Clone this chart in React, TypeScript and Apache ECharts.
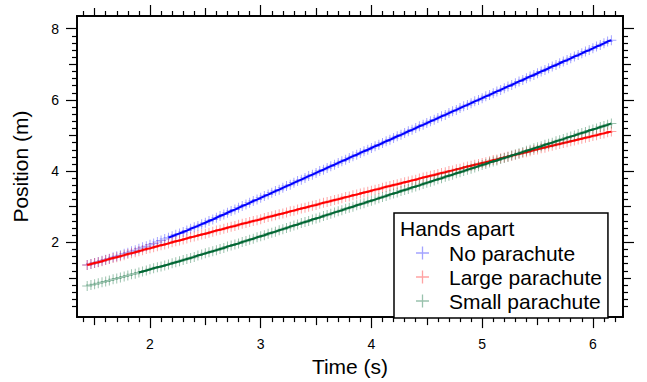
import React, { useEffect, useRef } from "react";
import * as echarts from "echarts";

// ---- data ----
const timeS = [
  1.433, 1.467, 1.5, 1.533, 1.567, 1.6, 1.633, 1.667, 1.7, 1.733, 1.767, 1.8, 1.833, 1.867, 1.9, 1.933, 1.967, 2,
  2.033, 2.067, 2.1, 2.133, 2.167, 2.2, 2.233, 2.267, 2.3, 2.333, 2.367, 2.4, 2.433, 2.467, 2.5, 2.533, 2.567, 2.6, 2.633, 2.667, 2.7, 2.733, 2.767, 2.8, 2.833, 2.867, 2.9, 2.933, 2.967, 3,
  3.033, 3.067, 3.1, 3.133, 3.167, 3.2, 3.233, 3.267, 3.3, 3.333, 3.367, 3.4, 3.433, 3.467, 3.5, 3.533, 3.567, 3.6, 3.633, 3.667, 3.7, 3.733, 3.767, 3.8, 3.833, 3.867, 3.9, 3.933, 3.967, 4,
  4.033, 4.067, 4.1, 4.133, 4.167, 4.2, 4.233, 4.267, 4.3, 4.333, 4.367, 4.4, 4.433, 4.467, 4.5, 4.533, 4.567, 4.6, 4.633, 4.667, 4.7, 4.733, 4.767, 4.8, 4.833, 4.867, 4.9, 4.933, 4.967, 5,
  5.033, 5.067, 5.1, 5.133, 5.167, 5.2, 5.233, 5.267, 5.3, 5.333, 5.367, 5.4, 5.433, 5.467, 5.5, 5.533, 5.567, 5.6, 5.633, 5.667, 5.7, 5.733, 5.767, 5.8, 5.833, 5.867, 5.9, 5.933, 5.967, 6,
  6.033, 6.067, 6.1, 6.133, 6.167,
];

const noParachute = [
  1.36, 1.39, 1.42, 1.45, 1.48, 1.51, 1.54, 1.58, 1.61, 1.64, 1.68, 1.71, 1.75, 1.78, 1.82, 1.86, 1.89, 1.93, 1.97, 2.01,
  2.05, 2.09, 2.13, 2.17, 2.21, 2.25, 2.29, 2.33, 2.38, 2.42, 2.46, 2.51, 2.55, 2.6, 2.64, 2.69,
  2.74, 2.78, 2.83, 2.88, 2.92, 2.97, 3.02, 3.06, 3.11, 3.16, 3.2, 3.25, 3.3, 3.34, 3.39, 3.44, 3.48, 3.53, 3.58, 3.62,
  3.67, 3.72, 3.76, 3.81, 3.86, 3.9, 3.95, 4.0, 4.04, 4.09, 4.14, 4.18, 4.23, 4.28, 4.32, 4.37, 4.42, 4.46, 4.51, 4.56,
  4.6, 4.65, 4.7, 4.74, 4.79, 4.84, 4.88, 4.93, 4.98, 5.02, 5.07, 5.12, 5.16, 5.21, 5.26, 5.3, 5.35, 5.4, 5.44, 5.49,
  5.54, 5.58, 5.63, 5.68, 5.72, 5.77, 5.82, 5.86, 5.91, 5.96, 6.0, 6.05, 6.1, 6.14, 6.19, 6.24, 6.28, 6.33, 6.38, 6.42,
  6.47, 6.52, 6.56, 6.61, 6.66, 6.7, 6.75, 6.8, 6.84, 6.89, 6.94, 6.98, 7.03, 7.08, 7.12, 7.17, 7.22, 7.26, 7.31, 7.36,
  7.4, 7.45, 7.5, 7.54, 7.59, 7.64, 7.68,
];

const largeParachute = [
  1.36, 1.39, 1.42, 1.44, 1.47, 1.5, 1.53, 1.56, 1.58, 1.61,
  1.64, 1.67, 1.69, 1.72, 1.75, 1.78, 1.81, 1.83, 1.86, 1.89,
  1.92, 1.94, 1.97, 2.0, 2.03, 2.05, 2.08, 2.11, 2.14, 2.16,
  2.19, 2.22, 2.24, 2.27, 2.3, 2.33, 2.35, 2.38, 2.41, 2.44,
  2.46, 2.49, 2.52, 2.54, 2.57, 2.6, 2.62, 2.65, 2.68, 2.71,
  2.73, 2.76, 2.79, 2.81, 2.84, 2.87, 2.89, 2.92, 2.95, 2.97,
  3.0, 3.03, 3.05, 3.08, 3.11, 3.13, 3.16, 3.19, 3.21, 3.24,
  3.27, 3.29, 3.32, 3.34, 3.37, 3.4, 3.42, 3.45, 3.48, 3.5,
  3.53, 3.56, 3.58, 3.61, 3.63, 3.66, 3.69, 3.71, 3.74, 3.76,
  3.79, 3.82, 3.84, 3.87, 3.89, 3.92, 3.95, 3.97, 4.0, 4.02,
  4.05, 4.07, 4.1, 4.13, 4.15, 4.18, 4.2, 4.23, 4.25, 4.28,
  4.31, 4.33, 4.36, 4.38, 4.41, 4.43, 4.46, 4.48, 4.51, 4.53,
  4.56, 4.59, 4.61, 4.64, 4.66, 4.69, 4.71, 4.74, 4.76, 4.79,
  4.81, 4.84, 4.86, 4.89, 4.91, 4.94, 4.96, 4.99, 5.01, 5.04,
  5.06, 5.09, 5.11,
];

const smallParachute = [
  0.77, 0.8, 0.82, 0.85, 0.88, 0.9, 0.93, 0.96, 0.98, 1.01,
  1.04, 1.07, 1.1, 1.12, 1.15, 1.18, 1.21, 1.24, 1.27, 1.3,
  1.32, 1.35, 1.38, 1.41, 1.44, 1.47, 1.5, 1.53, 1.56, 1.59,
  1.63, 1.66, 1.69, 1.72, 1.75, 1.78, 1.81, 1.84, 1.88, 1.91,
  1.94, 1.97, 2.01, 2.04, 2.07, 2.1, 2.14, 2.17,
  2.2, 2.24, 2.27, 2.3, 2.34, 2.37, 2.4, 2.44, 2.47, 2.5, 2.54, 2.57,
  2.6, 2.64, 2.67, 2.7, 2.74, 2.77, 2.8, 2.84, 2.87, 2.9,
  2.94, 2.97, 3.0, 3.04, 3.07, 3.1, 3.14, 3.17, 3.2, 3.24,
  3.27, 3.3, 3.34, 3.37, 3.4, 3.44, 3.47, 3.5, 3.54, 3.57,
  3.6, 3.64, 3.67, 3.7, 3.74, 3.77, 3.8, 3.84, 3.87, 3.9,
  3.94, 3.97, 4.0, 4.04, 4.07, 4.1, 4.14, 4.17, 4.2, 4.24,
  4.27, 4.3, 4.34, 4.37, 4.4, 4.44, 4.47, 4.5, 4.54, 4.57,
  4.6, 4.64, 4.67, 4.7, 4.74, 4.77, 4.8, 4.84, 4.87, 4.9,
  4.94, 4.97, 5.0, 5.04, 5.07, 5.1, 5.14, 5.17, 5.2, 5.24,
  5.27, 5.3, 5.34,
];

// start times of the fitted (solid) lines
const fitStart = { none: 2.15, large: 1.43, small: 1.9 };

const seriesNames = ["No parachute", "Large parachute", "Small parachute"];
const legendTitle = "Hands apart";
const xTitle = "Time (s)";
const yTitle = "Position (m)";

const xMajorTicks = [2, 3, 4, 5, 6];
const xMidTicks = [1.5, 2.5, 3.5, 4.5, 5.5];
const yMajorTicks = [2, 4, 6, 8];
const yMidTicks = [1, 3, 5, 7];

// ---- layout / style ----
const FONT = 'Arial, "Liberation Sans", sans-serif';
const X_MIN = 1.341;
const X_MAX = 6.272;
const Y_MIN = -0.101;
const Y_MAX = 8.358;
const PLUS = "path://M4.5,0h1v10h-1z M0,4.5h10v1h-10z";

const xMinorTicks: number[] = [];
for (let i = 14; i <= 62; i++) if (i % 5 !== 0) xMinorTicks.push(i / 10);
const yMinorTicks: number[] = [];
for (let i = 1; i <= 40; i++) if (i % 5 !== 0) yMinorTicks.push(i / 5);

const axisLineStyle = { color: "#000", width: 1.5 };
const tickLineStyle = { color: "#000", width: 1.2 };

function pairs(ys: number[]) {
  const n = Math.min(timeS.length, ys.length);
  const out: number[][] = [];
  for (let i = 0; i < n; i++) out.push([timeS[i], ys[i]]);
  return out;
}

function mkX(position: string, ticks: number[], len: number, labels: boolean, name?: string) {
  return {
    type: "value",
    position,
    min: X_MIN,
    max: X_MAX,
    name: name || "",
    nameLocation: "middle",
    nameGap: 26,
    nameTextStyle: { fontSize: 21, color: "#000", fontFamily: FONT },
    axisLine: { show: true, onZero: false, lineStyle: axisLineStyle },
    axisTick: { show: true, inside: false, length: len, customValues: ticks, lineStyle: tickLineStyle },
    axisLabel: labels
      ? { show: true, customValues: ticks, fontSize: 14, color: "#000", margin: 20, fontFamily: FONT }
      : { show: false },
    splitLine: { show: false },
  };
}

function mkY(position: string, ticks: number[], len: number, labels: boolean, name?: string) {
  return {
    type: "value",
    position,
    min: Y_MIN,
    max: Y_MAX,
    name: name || "",
    nameLocation: "middle",
    nameGap: 46,
    nameTextStyle: { fontSize: 21, color: "#000", fontFamily: FONT },
    axisLine: { show: true, onZero: false, lineStyle: axisLineStyle },
    axisTick: { show: true, inside: false, length: len, customValues: ticks, lineStyle: tickLineStyle },
    axisLabel: labels
      ? { show: true, customValues: ticks, fontSize: 14, color: "#000", margin: 18, fontFamily: FONT }
      : { show: false },
    splitLine: { show: false },
  };
}

export default function App() {
  const ref = useRef<HTMLDivElement>(null);
  useEffect(() => {
    if (!ref.current) return;
    const chart = echarts.init(ref.current, undefined, { renderer: "svg" });

    const dataSets = [
      { name: seriesNames[0], ys: noParachute, marker: "rgba(0,0,255,0.45)", line: "#0000ff", start: fitStart.none },
      { name: seriesNames[1], ys: largeParachute, marker: "rgba(255,0,0,0.45)", line: "#ff0000", start: fitStart.large },
      { name: seriesNames[2], ys: smallParachute, marker: "rgba(0,102,51,0.5)", line: "#006633", start: fitStart.small },
    ];

    const series: any[] = [];
    dataSets.forEach((d, i) => {
      const pts = pairs(d.ys);
      series.push({
        type: "scatter",
        name: d.name,
        data: pts,
        symbol: PLUS,
        symbolSize: 10,
        itemStyle: { color: d.marker },
        silent: true,
        emphasis: { disabled: true },
        z: 2 + i * 2,
      });
      series.push({
        type: "line",
        name: d.name + " fit",
        data: pts.filter((p) => p[0] >= d.start),
        showSymbol: false,
        symbol: "none",
        lineStyle: { color: d.line, width: 2 },
        itemStyle: { color: d.line },
        silent: true,
        emphasis: { disabled: true },
        z: 3 + i * 2,
      });
    });

    chart.setOption({
      animation: false,
      backgroundColor: "#fff",
      grid: { left: 77, right: 24, top: 16, bottom: 59, containLabel: false },
      title: {
        text: legendTitle,
        left: 395,
        top: 213,
        padding: 5,
        z: 20,
        textStyle: { fontSize: 21, fontWeight: "normal", color: "#000", fontFamily: FONT },
      },
      xAxis: [
        mkX("bottom", xMajorTicks, 11, true, xTitle),
        mkX("bottom", xMidTicks, 8, false),
        mkX("bottom", xMinorTicks, 5, false),
        mkX("top", xMajorTicks, 11, false),
        mkX("top", xMidTicks, 8, false),
        mkX("top", xMinorTicks, 5, false),
      ],
      yAxis: [
        mkY("left", yMajorTicks, 11, true, yTitle),
        mkY("left", yMidTicks, 8, false),
        mkY("left", yMinorTicks, 5, false),
        mkY("right", yMajorTicks, 11, false),
        mkY("right", yMidTicks, 8, false),
        mkY("right", yMinorTicks, 5, false),
      ],
      legend: {
        data: seriesNames,
        orient: "vertical",
        left: 394,
        top: 213,
        padding: [28, 6, 5, 22],
        itemGap: 0,
        itemWidth: 43,
        itemHeight: 13,
        icon: PLUS,
        borderColor: "#000",
        borderWidth: 1.5,
        backgroundColor: "#fff",
        selectedMode: false,
        z: 10,
        textStyle: { fontSize: 21, lineHeight: 24, color: "#000", fontFamily: FONT },
      },
      series,
    });
    return () => chart.dispose();
  }, []);
  return <div ref={ref} style={{ position: "absolute", left: 0, top: 0, width: 647, height: 382 }} />;
}
